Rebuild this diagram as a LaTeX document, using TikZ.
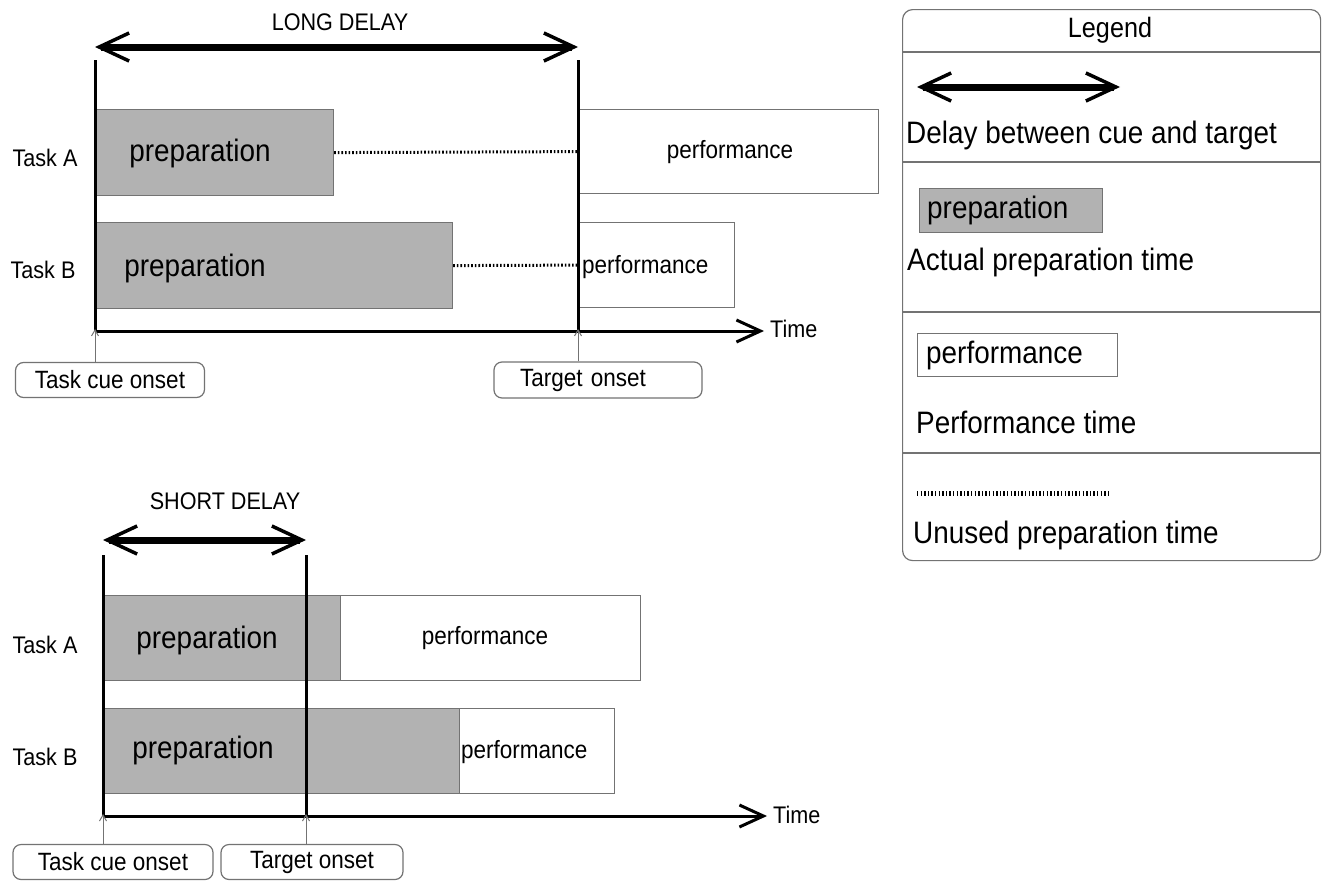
\documentclass[tikz,border=0pt]{standalone}
\usepackage{fontspec}
\setmainfont{Liberation Sans}[FakeStretch=0.9]
\usetikzlibrary{arrows.meta}
\begin{document}
\begin{tikzpicture}[x=1pt,y=-1pt,
  lbl/.style={inner sep=0pt,font=\fontsize{24}{28}\selectfont},
  biglbl/.style={inner sep=0pt,font=\fontsize{31}{36}\selectfont},
  perflbl/.style={inner sep=0pt,font=\fontsize{25}{29}\selectfont},
  prepbar/.style={draw=black!55,line width=1.2pt,fill=gray!60,anchor=north west,inner sep=0pt},
  perfbar/.style={draw=black!55,line width=1.2pt,fill=white,anchor=north west,inner sep=0pt},
  delayarrow/.style={line width=7pt,{Straight Barb[length=30pt,width=28pt,line width=3.5pt]}-{Straight Barb[length=30pt,width=28pt,line width=3.5pt]}},
  timeaxis/.style={line width=3pt,-{Straight Barb[length=24pt,width=22pt,line width=3pt]}},
  onsetline/.style={line width=3pt},
  pointer/.style={draw=black!55,line width=1pt,-{Straight Barb[length=6pt,width=7pt,line width=1pt]}},
  onsetbox/.style={draw=black!55,line width=1.2pt,rounded corners=8pt,fill=white,inner sep=0pt,font=\fontsize{25}{29}\selectfont},
  unused/.style={line width=3pt,dash pattern=on 1.6pt off 2pt},
  legunused/.style={line width=5pt,dash pattern=on 1.4pt off 2.2pt},
  divider/.style={draw=black!55,line width=1.2pt}]
\useasboundingbox (0,0) rectangle (1322,881);

% ---------------- top: long delay ----------------
\node[lbl] (ldtxt) at (340,22) {LONG DELAY};
\coordinate (ldL) at (95,47);
\coordinate (ldR) at (578,47);
\draw[delayarrow] (ldL) -- (ldR);

\node[prepbar,minimum width=238pt,minimum height=86pt] (tpA) at (95,109) {};
\node[perfbar,minimum width=300pt,minimum height=84pt] (tfA) at (578,109) {};
\node[prepbar,minimum width=357pt,minimum height=86pt] (tpB) at (95,222) {};
\node[perfbar,minimum width=156pt,minimum height=85pt] (tfB) at (578,222) {};
\draw[unused] (tpA.east) -- (tfA.west);
\draw[unused] (tpB.east) -- (tfB.west);

\node[biglbl] (tpAt) at (200,153) {preparation};
\node[biglbl] (tpBt) at (195,268) {preparation};
\node[perflbl] (tfAt) at (730,152) {performance};
\node[perflbl,anchor=west] (tfBt) at (582,267) {performance};
\node[lbl] (ttA) at (45,158) {Task A};
\node[lbl] (ttB) at (43,270) {Task B};

\coordinate (tc1) at (95,60);
\coordinate (tc2) at (95,331);
\coordinate (tg1) at (578,60);
\coordinate (tg2) at (578,331);
\coordinate (tax) at (764,331);
\draw[onsetline] (tc1) -- (tc2);
\draw[onsetline] (tg1) -- (tg2);
\draw[timeaxis] (tc2) -- (tax);
\node[lbl,anchor=west] (ttime) at (770,329) {Time};

\node[onsetbox,minimum width=189pt,minimum height=35pt] (tcue) at (110,380) {Task cue onset};
\node[onsetbox,minimum width=208pt,minimum height=36pt,text width=156pt,align=left] (ttgt) at (598,380) {Target onset};
\draw[pointer] (tc2 |- tcue.north) -- ([yshift=2pt]tc2);
\draw[pointer] (tg2 |- ttgt.north) -- ([yshift=2pt]tg2);

% ---------------- bottom: short delay ----------------
\node[lbl] (sdtxt) at (225,501) {SHORT DELAY};
\coordinate (sdL) at (103,540);
\coordinate (sdR) at (306,540);
\draw[delayarrow] (sdL) -- (sdR);

\node[prepbar,minimum width=237pt,minimum height=85pt] (bpA) at (103,595) {};
\node[perfbar,minimum width=300pt,minimum height=85pt] (bfA) at (340,595) {};
\node[prepbar,minimum width=356pt,minimum height=85pt] (bpB) at (103,708) {};
\node[perfbar,minimum width=155pt,minimum height=85pt] (bfB) at (459,708) {};

\node[biglbl] (bpAt) at (207,640) {preparation};
\node[biglbl] (bpBt) at (203,750) {preparation};
\node[perflbl] (bfAt) at (485,638) {performance};
\node[perflbl,anchor=west] (bfBt) at (461,752) {performance};
\node[lbl] (btA) at (45,645) {Task A};
\node[lbl] (btB) at (45,757) {Task B};

\coordinate (bc1) at (103,555);
\coordinate (bc2) at (103,816);
\coordinate (bg1) at (306,555);
\coordinate (bg2) at (306,816);
\coordinate (bax) at (767,816);
\draw[onsetline] (bc1) -- (bc2);
\draw[onsetline] (bg1) -- (bg2);
\draw[timeaxis] (bc2) -- (bax);
\node[lbl,anchor=west] (btime) at (773,815) {Time};

\node[onsetbox,minimum width=200pt,minimum height=35pt] (bcue) at (113,862) {Task cue onset};
\node[onsetbox,minimum width=182pt,minimum height=35pt] (btgt) at (312,862) {Target onset};
\draw[pointer] (bc2 |- bcue.north) -- ([yshift=2pt]bc2);
\draw[pointer] (bg2 |- btgt.north) -- ([yshift=2pt]bg2);

% ---------------- legend ----------------
\node[draw=black!55,line width=1.2pt,rounded corners=10pt,anchor=north west,inner sep=0pt,minimum width=418pt,minimum height=551pt] (leg) at (902,9) {};
\draw[divider] (leg.west |- 0,52) -- (leg.east |- 0,52);
\draw[divider] (leg.west |- 0,162) -- (leg.east |- 0,162);
\draw[divider] (leg.west |- 0,312) -- (leg.east |- 0,312);
\draw[divider] (leg.west |- 0,453) -- (leg.east |- 0,453);
\node[inner sep=0pt,font=\fontsize{28}{32}\selectfont] (legt) at (1110,30) {Legend};

\coordinate (lgL) at (917,87);
\coordinate (lgR) at (1120,87);
\draw[delayarrow] (lgL) -- (lgR);
\node[biglbl,anchor=west] (lg1) at (906,135) {Delay between cue and target};

\node[prepbar,minimum width=183pt,minimum height=44pt] (lgp) at (919,188) {};
\node[biglbl,anchor=west] (lgpt) at (927,210) {preparation};
\node[biglbl,anchor=west] (lg2) at (907,262) {Actual preparation time};

\node[perfbar,minimum width=200pt,minimum height=43pt] (lgf) at (917,333) {};
\node[biglbl,anchor=west] (lgft) at (926,355) {performance};
\node[biglbl,anchor=west] (lg3) at (916,422) {Performance time};

\coordinate (lduL) at (917,493);
\coordinate (lduR) at (1110,493);
\draw[legunused] (lduL) -- (lduR);
\node[biglbl,anchor=west] (lg4) at (913,535) {Unused preparation time};
\end{tikzpicture}
\end{document}
